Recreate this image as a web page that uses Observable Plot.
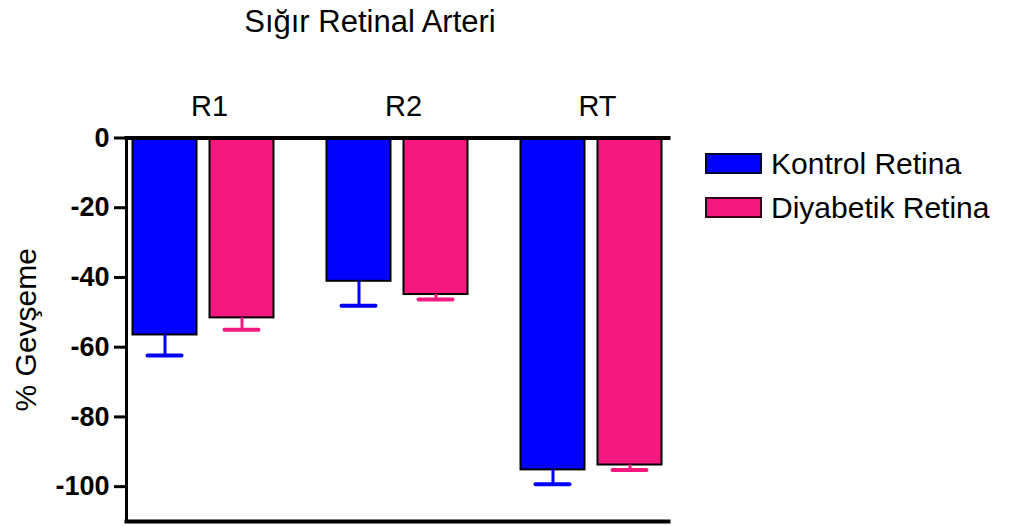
<!DOCTYPE html>
<html>
<head>
<meta charset="utf-8">
<script src="https://cdn.jsdelivr.net/npm/d3@7"></script>
<script src="https://cdn.jsdelivr.net/npm/@observablehq/plot@0.6"></script>
<style>
  body { margin: 0; background: #fff; font-family: "Liberation Sans", Arial, sans-serif; }
  #wrap { position: relative; width: 1010px; height: 526px; overflow: hidden; }
  #title { width: 740px; height: 44px; line-height: 44px; text-align: center; font-size: 31px; color: #000; }
  #legend { position: absolute; left: 705px; top: 0; }
  .item { position: absolute; left: 0; height: 21px; display: flex; align-items: center; white-space: nowrap; font-size: 30px; color: #000; }
  .sw { width: 57px; height: 21px; box-sizing: border-box; border: 2px solid #000; margin-right: 9px; flex: none; }
</style>
</head>
<body>
<div id="wrap">
  <div id="title"></div>
  <div id="chart"></div>
  <div id="legend"></div>
</div>
<script>
// Relaxation (%) of bovine retinal artery, mean and SEM per group
const groups = ["R1", "R2", "RT"];
const series = ["Kontrol Retina", "Diyabetik Retina"];
const kontrolMean = [-56.5, -41.1, -95.2];
const kontrolSem = [5.9, 7.0, 4.1];
const diyabetikMean = [-51.6, -44.9, -93.8];
const diyabetikSem = [3.4, 1.4, 1.4];
const yTicks = [0, -20, -40, -60, -80, -100];
const colors = ["#0000ff", "#f5187e"];
const borders = ["#00003a", "#3a0018"];
const titleText = "Sığır Retinal Arteri";
const yLabel = "% Gevşeme";

const rows = groups.flatMap((g, i) => [
  {group: g, series: series[0], mean: kontrolMean[i], sem: kontrolSem[i]},
  {group: g, series: series[1], mean: diyabetikMean[i], sem: diyabetikSem[i]}
]);

document.getElementById("title").textContent = titleText;

const font = "'Liberation Sans', Arial, sans-serif";

const chart = Plot.plot({
  width: 1010,
  height: 482,
  marginTop: 93.5,
  marginBottom: 5,
  marginLeft: 125.5,
  marginRight: 341.5,
  style: {fontFamily: font, background: "white", color: "black", overflow: "visible"},
  fx: {domain: groups, paddingInner: 0.206, paddingOuter: 0, label: null, axis: null},
  x: {domain: series, paddingInner: 0.169, paddingOuter: 0.0844, axis: null},
  y: {domain: [-110, 0], label: null, axis: null},
  color: {domain: series, range: colors},
  marks: [
    // bars hang down from the zero line
    Plot.barY(rows, {fx: "group", x: "series", y: "mean", fill: "series", stroke: "black", strokeWidth: 2}),
    // one-sided error bars (mean − SEM)
    Plot.ruleX(rows, {fx: "group", x: "series", y1: "mean", y2: d => d.mean - d.sem, stroke: "series", strokeWidth: 3}),
    Plot.tickY(rows, {fx: "group", x: "series", y: d => d.mean - d.sem, stroke: "series", strokeWidth: 4, strokeLinecap: "round", inset: 15}),
    // axis lines: left, zero line on top, bottom
    Plot.frame({facet: "super", anchor: "left", strokeWidth: 3}),
    Plot.frame({facet: "super", anchor: "top", strokeWidth: 4}),
    Plot.frame({facet: "super", anchor: "bottom", strokeWidth: 4}),
    Plot.axisY({ticks: yTicks, tickFormat: d => String(d), tickSize: 12, tickPadding: 5, strokeWidth: 3,
      fontSize: 27, fontWeight: "bold", label: null}),
    Plot.axisFx({anchor: "top", tickSize: 0, tickPadding: 22.5, dx: 6, fontSize: 29, label: null}),
    Plot.text([yLabel], {facet: "super", frameAnchor: "left", rotate: -90, textAnchor: "middle", dx: -100, fontSize: 30, text: d => d})
  ]
});
document.getElementById("chart").appendChild(chart);

// legend
const legend = d3.select("#legend");
series.forEach((s, i) => {
  const item = legend.append("div").attr("class", "item").style("top", (153 + i * 44) + "px");
  item.append("span").attr("class", "sw").style("background", colors[i]).style("border-color", borders[i]);
  item.append("span").text(s);
});
</script>
</body>
</html>
